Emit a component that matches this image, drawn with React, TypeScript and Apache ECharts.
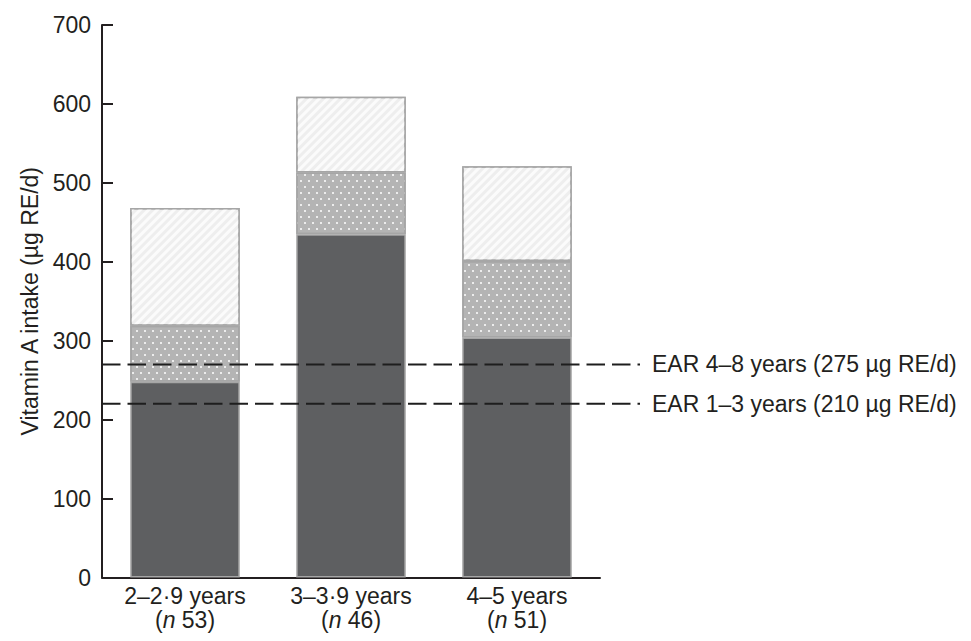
import React, { useEffect, useRef } from "react";
import * as echarts from "echarts";

const categories = ["2–2·9 years", "3–3·9 years", "4–5 years"];
const sampleSizes = [53, 46, 51];
const darkValues = [248, 435, 304];
const dottedValues = [71, 78, 97];
const hatchedValues = [149, 96, 120];
const yTicks = { min: 0, max: 700, interval: 100 };
const earLines = [
  { y: 270, label: "EAR 4–8 years (275 µg RE/d)" },
  { y: 220, label: "EAR 1–3 years (210 µg RE/d)" },
];

const FONT = "Liberation Sans, Arial, sans-serif";
const TEXT = "#231f20";
const FS = 23;

export default function App() {
  const ref = useRef<HTMLDivElement>(null);
  useEffect(() => {
    if (!ref.current) return;
    const chart = echarts.init(ref.current, undefined, { renderer: "svg" });
    const border = { borderColor: "#a6a6a6", borderWidth: 1.5 };
    chart.setOption({
      animation: false,
      backgroundColor: "#ffffff",
      textStyle: { fontFamily: FONT },
      grid: [
        { left: 102, right: 371, top: 25, bottom: 63.5 },
        { left: 102, right: 331, top: 25, bottom: 63.5 },
      ],
      xAxis: [
        {
          type: "category",
          gridIndex: 0,
          data: categories,
          axisLine: { lineStyle: { color: TEXT, width: 2 } },
          axisTick: { show: false },
          axisLabel: {
            interval: 0,
            hideOverlap: false,
            color: TEXT,
            fontSize: FS,
            fontFamily: FONT,
            lineHeight: 24,
            margin: 6,
            formatter: (v: string, i: number) =>
              `{t|${v}}\n{t|(}{i|n}{t| ${sampleSizes[i]})}`,
            rich: {
              t: { fontSize: FS, fontFamily: FONT, color: TEXT, lineHeight: 24 },
              i: { fontSize: FS, fontFamily: FONT, color: TEXT, fontStyle: "italic", lineHeight: 24 },
            },
          },
        },
        { type: "value", gridIndex: 1, min: 0, max: 1, show: false },
      ],
      yAxis: [
        {
          type: "value",
          gridIndex: 0,
          min: yTicks.min,
          max: yTicks.max,
          interval: yTicks.interval,
          name: "Vitamin A intake (µg RE/d)",
          nameLocation: "middle",
          nameGap: 60,
          nameTextStyle: { color: TEXT, fontSize: FS, fontFamily: FONT },
          axisLine: { show: true, lineStyle: { color: TEXT, width: 2 } },
          axisTick: { show: true, inside: true, length: 11, lineStyle: { color: TEXT, width: 2 } },
          splitLine: { show: false },
          axisLabel: { color: TEXT, fontSize: FS, fontFamily: FONT, margin: 11 },
        },
        { type: "value", gridIndex: 1, min: yTicks.min, max: yTicks.max, show: false },
      ],
      series: [
        {
          type: "bar",
          stack: "a",
          xAxisIndex: 0,
          yAxisIndex: 0,
          data: darkValues,
          barCategoryGap: "34%",
          itemStyle: { color: "#5e5f61", ...border },
          z: 2,
        },
        {
          type: "bar",
          stack: "a",
          xAxisIndex: 0,
          yAxisIndex: 0,
          data: dottedValues,
          itemStyle: {
            color: "#b4b4b4",
            ...border,
            decal: {
              symbol: "rect",
              symbolSize: 1,
              color: "#ececec",
              backgroundColor: "#b4b4b4",
              dashArrayX: [
                [2, 6],
                [0, 4, 2, 2],
              ],
              dashArrayY: [2, 3.5],
              rotation: 0,
            },
          },
          z: 2,
        },
        {
          type: "bar",
          stack: "a",
          xAxisIndex: 0,
          yAxisIndex: 0,
          data: hatchedValues,
          itemStyle: {
            color: "#eeeeee",
            ...border,
            decal: {
              symbol: "rect",
              symbolSize: 1,
              color: "#fbfbfb",
              backgroundColor: "#ececec",
              dashArrayX: [1, 0],
              dashArrayY: [2.5, 2.5],
              rotation: -Math.PI / 4,
            },
          },
          z: 2,
        },
        ...earLines.map((e) => ({
          type: "line",
          xAxisIndex: 1,
          yAxisIndex: 1,
          data: [
            [0, e.y],
            [1, e.y],
          ],
          symbol: "none",
          silent: true,
          z: 5,
          lineStyle: { color: "#1e1e1e", width: 2, type: [18.5, 7] },
          endLabel: {
            show: true,
            formatter: () => e.label,
            color: TEXT,
            fontSize: FS,
            fontFamily: FONT,
            distance: 12,
          },
        })),
      ],
    });
    return () => chart.dispose();
  }, []);
  return (
    <div
      ref={ref}
      style={{ position: "absolute", left: 0, top: 0, width: 971, height: 641 }}
    />
  );
}
